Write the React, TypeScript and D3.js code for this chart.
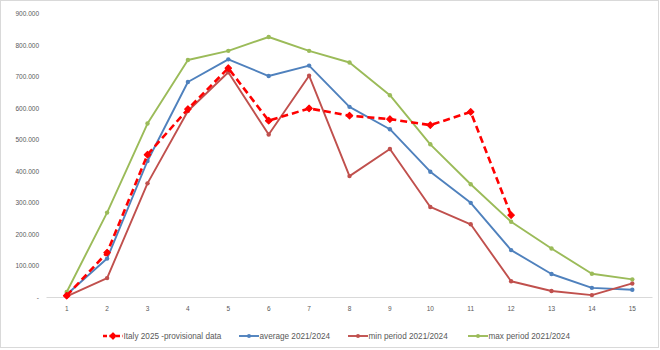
import React from "react";
import * as d3 from "d3";

const categories = [1, 2, 3, 4, 5, 6, 7, 8, 9, 10, 11, 12, 13, 14, 15];
const italy2025 = [5000, 142000, 453000, 598000, 728000, 561000, 600000, 577000, 566000, 547000, 589000, 261000];
const average = [9000, 123000, 433000, 684000, 756000, 703000, 736000, 605000, 534000, 399000, 300000, 150000, 74000, 30000, 24000];
const minPeriod = [3000, 61000, 362000, 592000, 715000, 517000, 704000, 385000, 471000, 287000, 232000, 51000, 20000, 7000, 44000];
const maxPeriod = [17000, 269000, 552000, 754000, 783000, 827000, 783000, 746000, 642000, 486000, 359000, 240000, 155000, 75000, 57000];
const yTicks = [0, 100000, 200000, 300000, 400000, 500000, 600000, 700000, 800000, 900000];
const legendLabels = ["Italy 2025 -provisional data", "average 2021/2024", "min period 2021/2024", "max period 2021/2024"];

const W = 660;
const H = 350;
const FONT = "'Liberation Sans', Arial, sans-serif";
const TEXT = "#595959";

const x = d3.scalePoint<number>().domain(categories).range([46.5, 652.5]).padding(0.5);
const y = d3.scaleLinear().domain([0, 900000]).range([297.3, 14]);

const fmt = (v: number) => (v === 0 ? "-" : d3.format(",")(v).replace(/,/g, "."));

type S = { name: string; data: number[]; color: string; width: number; dash?: string; marker: "circle" | "diamond"; ms: number };

const series: S[] = [
  { name: legendLabels[1], data: average, color: "#4F81BD", width: 1.9, marker: "circle", ms: 2.2 },
  { name: legendLabels[2], data: minPeriod, color: "#C0504D", width: 1.9, marker: "circle", ms: 2.2 },
  { name: legendLabels[3], data: maxPeriod, color: "#9BBB59", width: 1.9, marker: "circle", ms: 2.2 },
  { name: legendLabels[0], data: italy2025, color: "#FF0000", width: 2.6, dash: "7,4", marker: "diamond", ms: 3.2 },
];

const legendOrder = [3, 0, 1, 2];
const legendX = [103, 239, 348, 468];
const legendY = 336;

function Marker({ cx, cy, s }: { cx: number; cy: number; s: S }) {
  if (s.marker === "diamond") {
    const r = s.ms;
    return <path d={`M${cx},${cy - r}L${cx + r},${cy}L${cx},${cy + r}L${cx - r},${cy}Z`} fill={s.color} stroke={s.color} strokeWidth={1.2} strokeLinejoin="round" />;
  }
  return <circle cx={cx} cy={cy} r={s.ms} fill={s.color} />;
}

export default function App() {
  const line = d3
    .line<number>()
    .x((_, i) => x(categories[i]) as number)
    .y((d) => y(d));
  return (
    <svg width={W} height={H} style={{ position: "absolute", left: 0, top: 0, background: "#fff" }} fontFamily={FONT}>
      <rect x={0.5} y={0.5} width={658} height={347} fill="#fff" stroke="#d9d9d9" strokeWidth={1} />
      <line x1={46.5} x2={652.5} y1={297.5} y2={297.5} stroke="#d9d9d9" strokeWidth={1} />
      {yTicks.map((t) => (
        <text key={t} x={39} y={y(t)} dy="0.35em" textAnchor="end" fontSize={6.5} fill={TEXT}>
          {fmt(t)}
        </text>
      ))}
      {categories.map((c) => (
        <text key={c} x={x(c)} y={309} dy="0.35em" textAnchor="middle" fontSize={6.5} fill={TEXT}>
          {c}
        </text>
      ))}
      {series.map((s) => (
        <g key={s.name}>
          <path d={line(s.data) || ""} fill="none" stroke={s.color} strokeWidth={s.width} strokeDasharray={s.dash} strokeLinejoin="round" />
          {s.data.map((d, i) => (
            <Marker key={i} cx={x(categories[i]) as number} cy={y(d)} s={s} />
          ))}
        </g>
      ))}
      {legendOrder.map((si, k) => {
        const s = series[si];
        const lx = legendX[k];
        return (
          <g key={s.name}>
            <line x1={lx} x2={lx + 20} y1={legendY} y2={legendY} stroke={s.color} strokeWidth={s.width} strokeDasharray={s.dash ? "4,2.5" : undefined} />
            <Marker cx={lx + 10} cy={legendY} s={{ ...s, ms: s.marker === "diamond" ? 3 : 2 }} />
            <text x={lx + 20.5} y={legendY} dy="0.35em" fontSize={8.2} fill={TEXT}>
              {s.name}
            </text>
          </g>
        );
      })}
    </svg>
  );
}
